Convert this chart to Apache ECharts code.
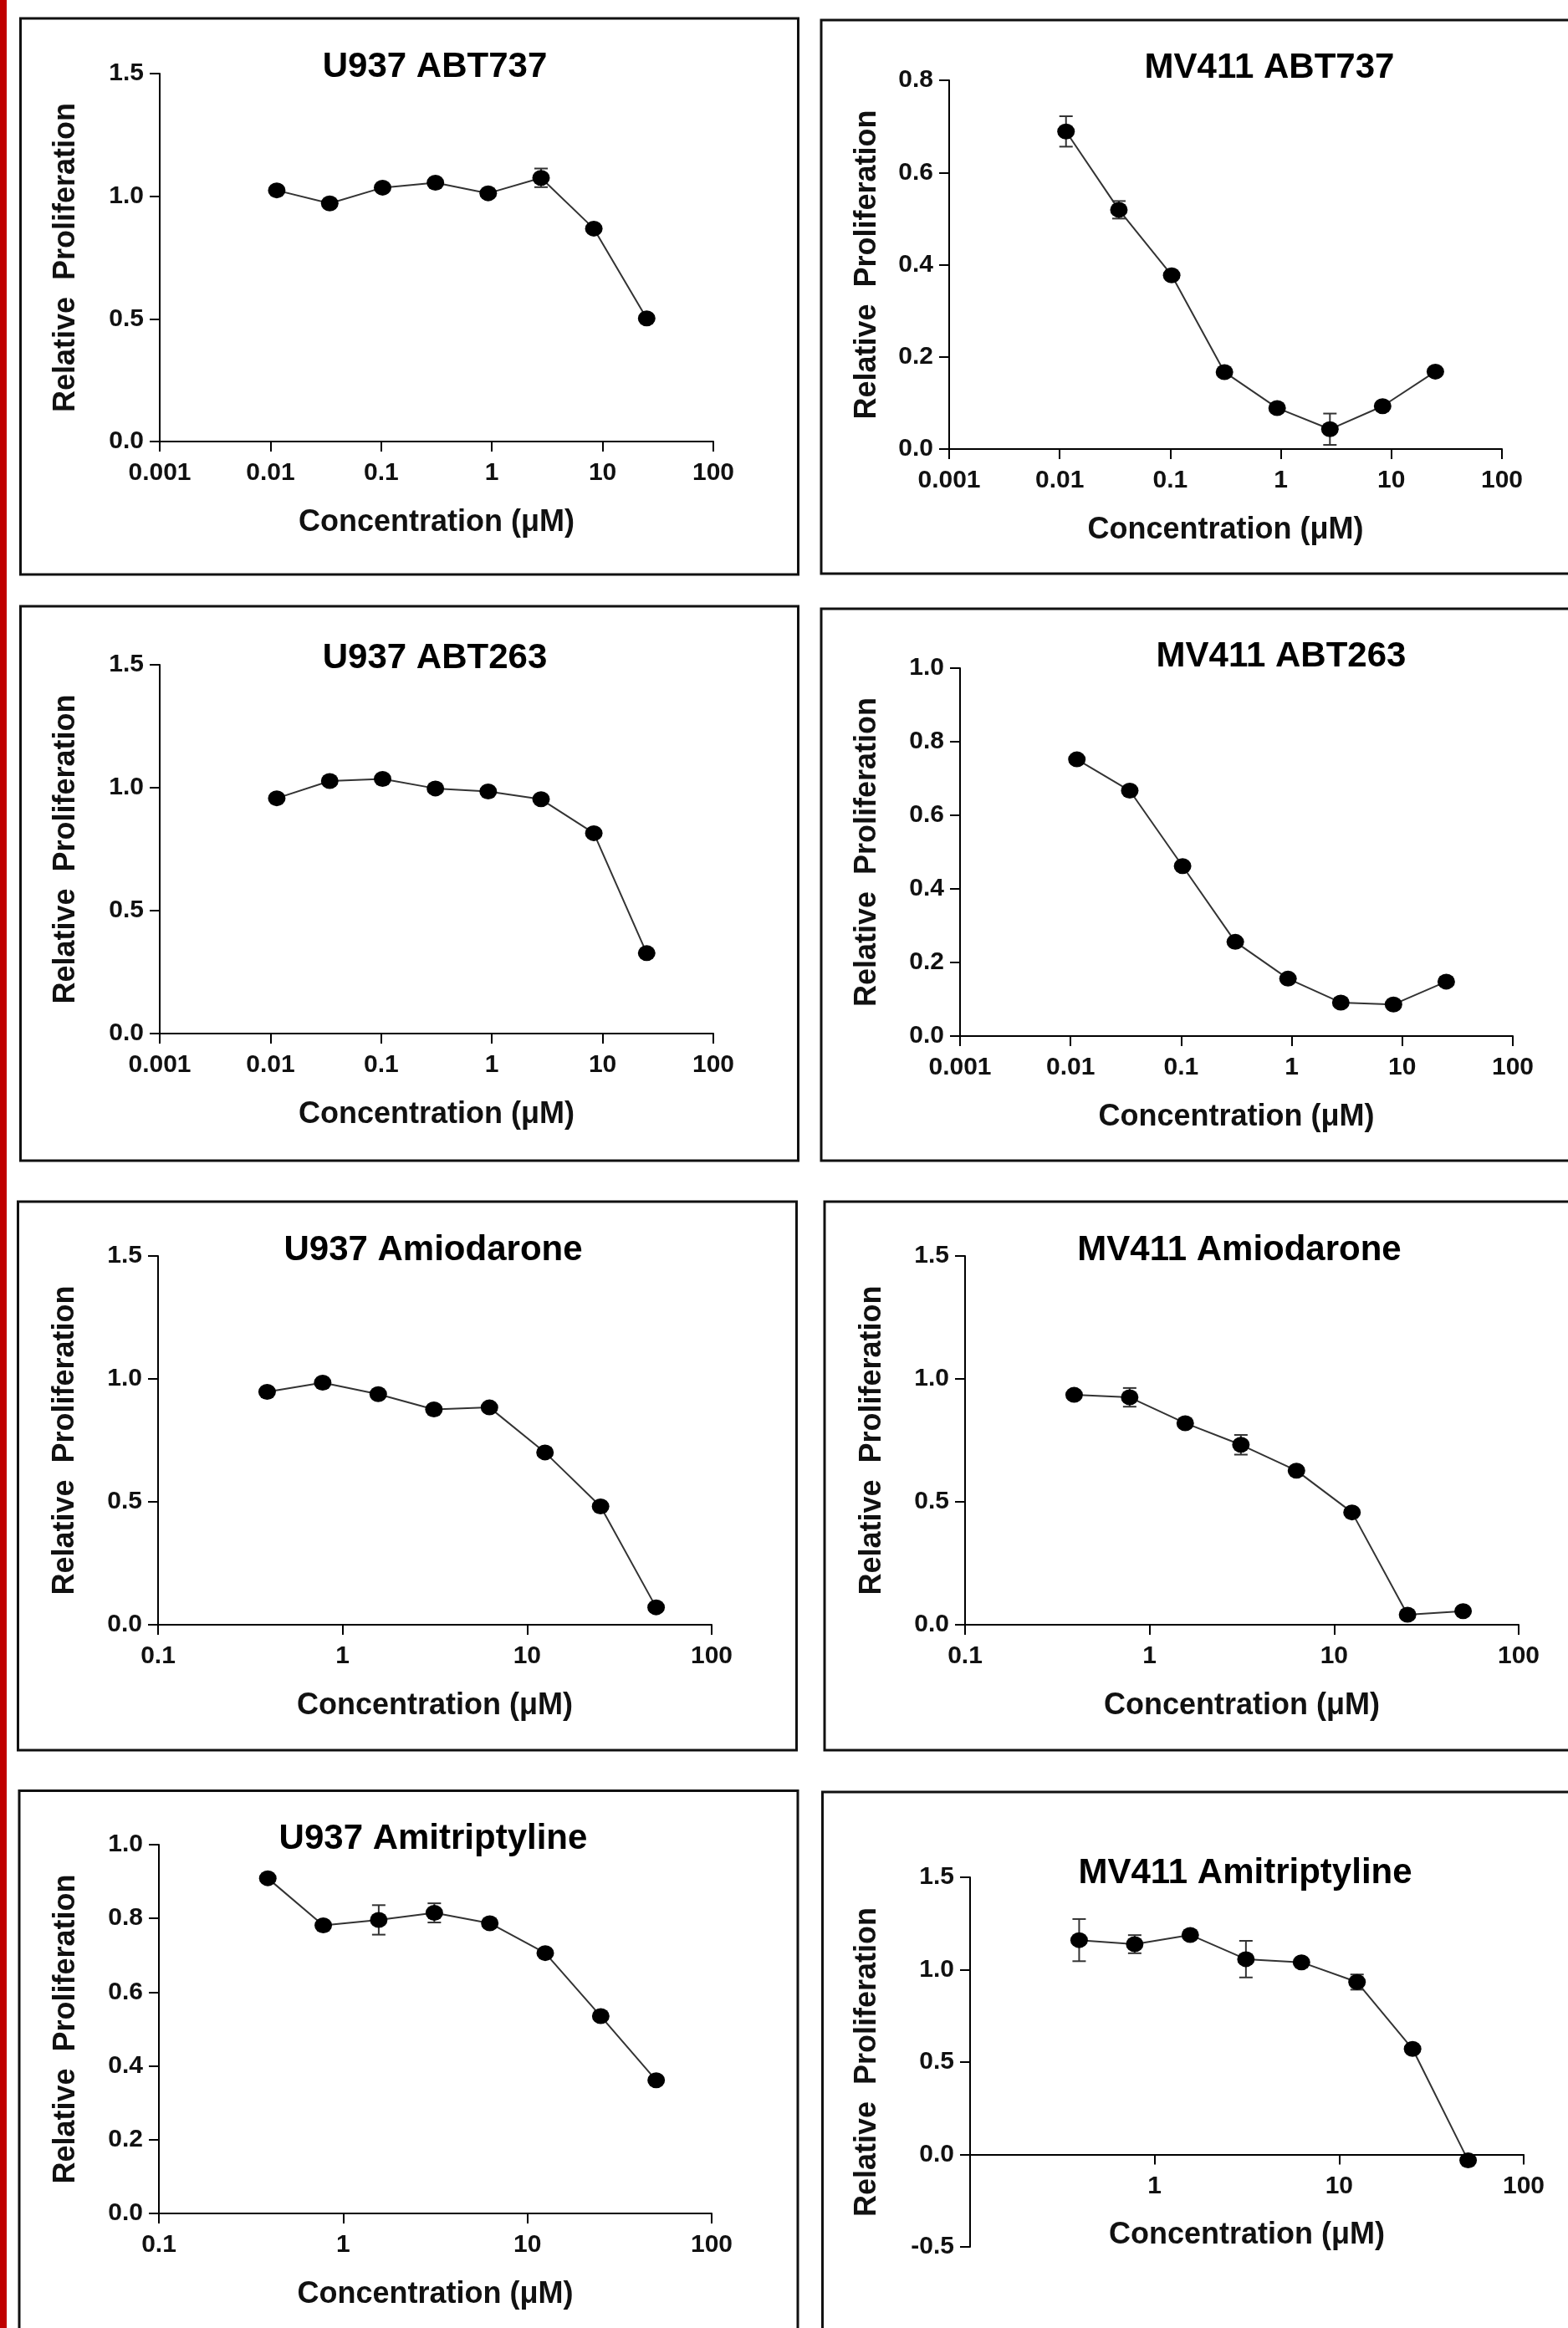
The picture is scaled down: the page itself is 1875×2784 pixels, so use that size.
<!DOCTYPE html>
<html>
  <head>
    <meta charset="utf-8">
    <title>Relative Proliferation</title>
    <script src="https://cdn.jsdelivr.net/npm/echarts@6/dist/echarts.min.js"></script>
    <style>
      html, body { margin: 0; padding: 0; background: #fff; }
      #chart { width: 1875px; height: 2784px; }
    </style>
  </head>
  <body>
    <div id="chart"></div>
  <script>
    // concentrations (uM): 3-fold series for ABT, 2-fold for the others
    var abtConc = [0.0114, 0.0343, 0.103, 0.309, 0.926, 2.78, 8.33, 25];
    var amiConc = [0.39, 0.78, 1.56, 3.125, 6.25, 12.5, 25, 50];

    // relative proliferation, mean and error (0 = bar hidden by the symbol)
    var u937Abt737 = [1.024, 0.971, 1.035, 1.055, 1.012, 1.075, 0.868, 0.502];
    var u937Abt737Err = [0, 0, 0, 0, 0, 0.038, 0, 0];
    var mv411Abt737 = [0.689, 0.519, 0.377, 0.167, 0.089, 0.043, 0.093, 0.168];
    var mv411Abt737Err = [0.033, 0.019, 0, 0, 0, 0.034, 0, 0];
    var u937Abt263 = [0.957, 1.027, 1.036, 0.997, 0.985, 0.953, 0.815, 0.327];
    var u937Abt263Err = [0, 0, 0, 0, 0, 0, 0, 0];
    var mv411Abt263 = [0.752, 0.667, 0.462, 0.256, 0.156, 0.091, 0.086, 0.148];
    var mv411Abt263Err = [0, 0, 0, 0, 0, 0, 0, 0];
    var u937Amio = [0.947, 0.985, 0.938, 0.876, 0.884, 0.701, 0.481, 0.071];
    var u937AmioErr = [0, 0, 0, 0, 0, 0, 0, 0];
    var mv411Amio = [0.935, 0.925, 0.820, 0.732, 0.627, 0.457, 0.041, 0.055];
    var mv411AmioErr = [0, 0.038, 0, 0.04, 0, 0, 0, 0];
    var u937Amit = [0.909, 0.781, 0.796, 0.815, 0.787, 0.706, 0.535, 0.361];
    var u937AmitErr = [0, 0, 0.04, 0.026, 0, 0, 0, 0];
    var mv411Amit = [1.160, 1.138, 1.188, 1.057, 1.040, 0.933, 0.571, -0.032];
    var mv411AmitErr = [0.114, 0.049, 0, 0.099, 0, 0.041, 0, 0];

    var titles = ['U937 ABT737', 'MV411 ABT737', 'U937 ABT263', 'MV411 ABT263',
                  'U937 Amiodarone', 'MV411 Amiodarone', 'U937 Amitriptyline', 'MV411 Amitriptyline'];
    var concs = [abtConc, abtConc, abtConc, abtConc, amiConc, amiConc, amiConc, amiConc];
    var means = [u937Abt737, mv411Abt737, u937Abt263, mv411Abt263, u937Amio, mv411Amio, u937Amit, mv411Amit];
    var errs = [u937Abt737Err, mv411Abt737Err, u937Abt263Err, mv411Abt263Err,
                u937AmioErr, mv411AmioErr, u937AmitErr, mv411AmitErr];

    // axis ranges
    var xMin = [0.001, 0.001, 0.001, 0.001, 0.1, 0.1, 0.1, 0.1];
    var xMax = 100;
    var yMin = [0, 0, 0, 0, 0, 0, 0, -0.5];
    var yMax = [1.5, 0.8, 1.5, 1.0, 1.5, 1.5, 1.0, 1.5];
    var yStep = [0.5, 0.2, 0.5, 0.2, 0.5, 0.5, 0.2, 0.5];

    var xName = 'Concentration (\u03bcM)';
    var yName = 'Relative  Proliferation';

    // page layout: grid [left, top, width, height], frame [x, y, w, h], title centre
    var layout = [
      { grid: [191, 88, 662, 440],   box: [24.5, 22, 930, 665],  title: [520, 80],    yGap: 94 },
      { grid: [1135, 96, 661, 441],  box: [982, 24, 960, 662],   title: [1518, 81],   yGap: 80 },
      { grid: [191, 795, 662, 441],  box: [24.5, 725, 930, 663], title: [520, 787],   yGap: 94 },
      { grid: [1148, 799, 661, 440], box: [982, 728, 960, 660],  title: [1532, 785],  yGap: 93 },
      { grid: [189, 1502, 662, 441], box: [21.5, 1437, 931, 656], title: [518, 1495], yGap: 93 },
      { grid: [1154, 1502, 662, 441], box: [986, 1437, 960, 656], title: [1482, 1495], yGap: 93 },
      { grid: [190, 2206, 661, 441], box: [23, 2141.5, 931, 700], title: [518, 2199], yGap: 93 },
      { grid: [1160, 2245, 662, 442], box: [983.5, 2143, 960, 700], title: [1489, 2240], yGap: 105 }
    ];

    var fontFamily = '"Liberation Sans", Arial, sans-serif';
    var axisColor = '#000';
    var labelStyle = { fontSize: 30, fontWeight: 'bold', fontFamily: fontFamily, color: '#111' };
    var nameStyle = { fontSize: 36, fontWeight: 'bold', fontFamily: fontFamily, color: '#111' };

    function logLabel(hideFirst) {
      return function (v) {
        var n = Number(v.toPrecision(3));
        if (hideFirst && n === 0.1) return '';
        return String(n);
      };
    }

    function logAxis(gridIndex, min, hideFirst) {
      return {
        type: 'log',
        logBase: 10,
        gridIndex: gridIndex,
        min: min,
        max: xMax,
        splitNumber: min === 0.001 ? 5 : 3,
        name: xName,
        nameLocation: 'middle',
        nameGap: 79,
        nameTextStyle: nameStyle,
        axisLine: { onZero: false, lineStyle: { color: axisColor, width: 2 } },
        axisTick: { length: 12, lineStyle: { color: axisColor, width: 2 } },
        minorTick: { show: false },
        axisLabel: Object.assign({ margin: 23, formatter: logLabel(hideFirst) }, labelStyle),
        splitLine: { show: false }
      };
    }

    function errorBars(params, api) {
      var x = api.value(0), y = api.value(1), e = api.value(2);
      if (!e) return;
      var top = api.coord([x, y + e]);
      var bot = api.coord([x, y - e]);
      var half = 8;
      var st = { stroke: '#333', lineWidth: 2 };
      return {
        type: 'group',
        children: [
          { type: 'line', shape: { x1: top[0], y1: top[1], x2: bot[0], y2: bot[1] }, style: st },
          { type: 'line', shape: { x1: top[0] - half, y1: top[1], x2: top[0] + half, y2: top[1] }, style: st },
          { type: 'line', shape: { x1: bot[0] - half, y1: bot[1], x2: bot[0] + half, y2: bot[1] }, style: st }
        ]
      };
    }

    var grids = [], xAxes = [], yAxes = [], series = [];
    var graphics = [
      { type: 'rect', shape: { x: 0, y: 0, width: 8, height: 2784 }, style: { fill: '#c00000' }, silent: true }
    ];

    for (var i = 0; i < 8; i++) {
      var L = layout[i];
      grids.push({ left: L.grid[0], top: L.grid[1], width: L.grid[2], height: L.grid[3] });

      var xa = logAxis(i, xMin[i], false);
      if (yMin[i] < 0) xa.show = false;   // drawn on the zero line by an overlay grid below
      xAxes.push(xa);

      yAxes.push({
        type: 'value',
        gridIndex: i,
        min: yMin[i],
        max: yMax[i],
        interval: yStep[i],
        name: yName,
        nameLocation: 'middle',
        nameGap: L.yGap,
        nameTextStyle: nameStyle,
        axisLine: { show: true, onZero: false, lineStyle: { color: axisColor, width: 2 } },
        axisTick: { show: true, length: 12, lineStyle: { color: axisColor, width: 2 } },
        axisLabel: Object.assign({ margin: 19, formatter: function (v) { return v.toFixed(1); } }, labelStyle),
        splitLine: { show: false }
      });

      var pts = [], bars = [];
      for (var j = 0; j < concs[i].length; j++) {
        pts.push([concs[i][j], means[i][j]]);
        bars.push([concs[i][j], means[i][j], errs[i][j]]);
      }

      series.push({
        type: 'custom',
        xAxisIndex: i,
        yAxisIndex: i,
        renderItem: errorBars,
        encode: { x: 0, y: 1 },
        data: bars,
        z: 2,
        silent: true
      });
      series.push({
        type: 'line',
        xAxisIndex: i,
        yAxisIndex: i,
        data: pts,
        symbol: 'circle',
        symbolSize: [21, 19],
        itemStyle: { color: '#000' },
        lineStyle: { color: '#333', width: 2 },
        z: 3,
        silent: true
      });

      graphics.push({
        type: 'rect',
        shape: { x: L.box[0], y: L.box[1], width: L.box[2], height: L.box[3] },
        style: { fill: 'none', stroke: '#111', lineWidth: 3 },
        silent: true
      });
      graphics.push({
        type: 'text',
        x: L.title[0],
        y: L.title[1],
        style: {
          text: titles[i],
          font: 'bold 42px ' + fontFamily,
          fill: '#000',
          textAlign: 'center',
          textVerticalAlign: 'middle'
        },
        silent: true
      });
    }

    // MV411 Amitriptyline: x axis sits on y = 0, so draw it with a grid that ends at zero
    var g8 = layout[7].grid;
    var zeroH = g8[3] * (yMax[7] - 0) / (yMax[7] - yMin[7]);
    grids.push({ left: g8[0], top: g8[1], width: g8[2], height: zeroH });
    xAxes.push(logAxis(8, xMin[7], true));
    yAxes.push({ type: 'value', gridIndex: 8, min: 0, max: yMax[7], show: false });

    var myChart = echarts.init(document.getElementById('chart'));
    myChart.setOption({
      animation: false,
      backgroundColor: '#fff',
      grid: grids,
      xAxis: xAxes,
      yAxis: yAxes,
      series: series,
      graphic: graphics
    });
  </script>
  </body>
</html>
